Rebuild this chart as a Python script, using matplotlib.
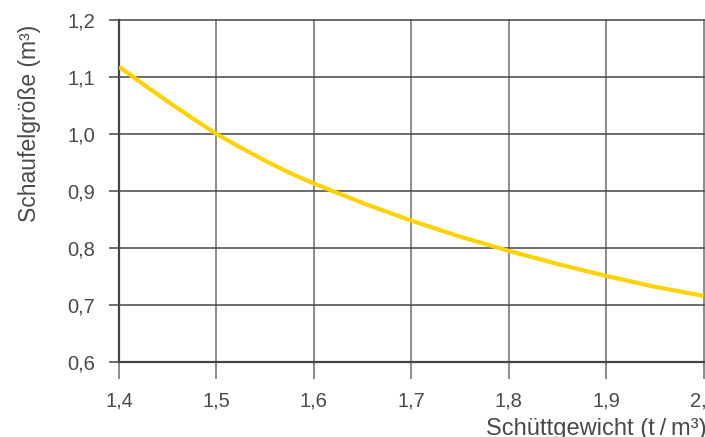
import matplotlib.pyplot as plt

# Schüttgewicht (t/m3) vs Schaufelgröße (m3)
density = [1.400, 1.425, 1.450, 1.475, 1.500, 1.525, 1.550, 1.575, 1.600,
           1.650, 1.700, 1.750, 1.800, 1.850, 1.900, 1.950, 2.000]
bucket = [1.118, 1.087, 1.057, 1.028, 1.000, 0.976, 0.953, 0.932, 0.913,
          0.879, 0.848, 0.820, 0.795, 0.772, 0.751, 0.732, 0.716]

x_ticks = [1.4, 1.5, 1.6, 1.7, 1.8, 1.9, 2.0]
x_labels = ['1,4', '1,5', '1,6', '1,7', '1,8', '1,9', '2,0']
y_ticks = [0.6, 0.7, 0.8, 0.9, 1.0, 1.1, 1.2]
y_labels = ['0,6', '0,7', '0,8', '0,9', '1,0', '1,1', '1,2']

plt.rcParams['font.family'] = ['Liberation Sans', 'DejaVu Sans']
text_col = '#4a4a4a'
dark = '#454545'
grey = '#8c8c8c'

fig = plt.figure(figsize=(7.05, 4.37), dpi=100)
ax = fig.add_axes([119 / 705, 75 / 437, (703.5 - 119) / 705, (362 - 20) / 437])

ax.plot(density, bucket, color='#ffd200', linewidth=3.0, zorder=5,
        solid_capstyle='butt', solid_joinstyle='round')

ax.set_xlim(1.4, 2.0)
ax.set_ylim(0.6, 1.2)
ax.set_xticks(x_ticks)
ax.set_xticklabels(x_labels)
ax.set_yticks(y_ticks)
ax.set_yticklabels(y_labels)

# grid: vertical lines light grey, horizontal lines dark
for xv in x_ticks:
    ax.axvline(xv, color=grey, linewidth=1.4, zorder=1, clip_on=False)
for yv in y_ticks:
    ax.axhline(yv, color=dark, linewidth=1.1, zorder=2, clip_on=False)

for side in ['top', 'right']:
    ax.spines[side].set_visible(False)
for side in ['left', 'bottom']:
    ax.spines[side].set_color(dark)
    ax.spines[side].set_linewidth(1.6)
    ax.spines[side].set_zorder(3)

ax.tick_params(axis='x', length=12, width=1.4, color=grey, pad=9,
               labelsize=14.5, labelcolor=text_col)
ax.tick_params(axis='y', length=7, width=1.1, color=dark, pad=10,
               labelsize=14.5, labelcolor=text_col)

fig.text(30 / 705, 1 - 123 / 437, 'Schaufelgröße (m³)', rotation=90,
         ha='center', va='center', fontsize=16.5, color=text_col)
fig.text(1.003, 0.004, 'Schüttgewicht (t\u2009/\u2009m³)', ha='right',
         va='baseline', fontsize=17, color=text_col)

fig.savefig('out.png', dpi=100)
